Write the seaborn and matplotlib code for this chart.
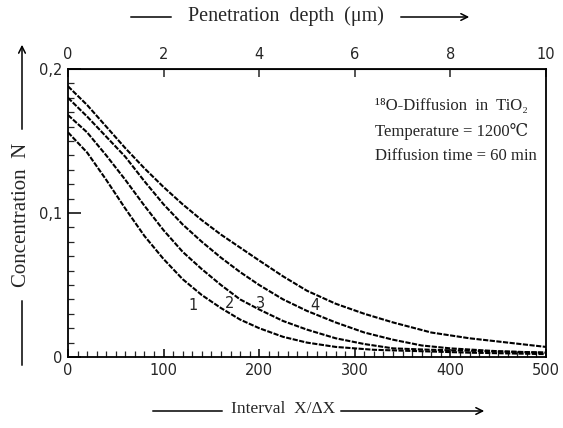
import numpy as np
import pandas as pd
import seaborn as sns
import matplotlib.pyplot as plt
from matplotlib.ticker import MultipleLocator, FuncFormatter

# profiles (interval X/dX, concentration N)
x1 = [0, 20, 40, 60, 80, 100, 120, 140, 160, 180, 200, 225, 250, 280, 320, 370, 420, 500]
n1 = [0.156, 0.142, 0.123, 0.103, 0.084, 0.068, 0.054, 0.043, 0.034, 0.026, 0.020, 0.014, 0.010, 0.007, 0.005, 0.004, 0.003, 0.002]
x2 = [0, 20, 40, 60, 80, 100, 120, 140, 160, 180, 200, 225, 250, 280, 310, 340, 380, 440, 500]
n2 = [0.168, 0.156, 0.140, 0.123, 0.105, 0.088, 0.073, 0.061, 0.050, 0.040, 0.033, 0.025, 0.019, 0.013, 0.009, 0.006, 0.005, 0.004, 0.003]
x3 = [0, 20, 40, 60, 80, 100, 120, 140, 160, 180, 200, 225, 250, 280, 310, 340, 370, 400, 450, 500]
n3 = [0.180, 0.167, 0.153, 0.139, 0.122, 0.106, 0.092, 0.080, 0.069, 0.059, 0.050, 0.040, 0.032, 0.024, 0.017, 0.012, 0.008, 0.006, 0.004, 0.003]
x4 = [0, 20, 40, 60, 80, 100, 120, 140, 160, 180, 200, 225, 250, 280, 310, 340, 380, 420, 460, 500]
n4 = [0.188, 0.175, 0.160, 0.145, 0.131, 0.118, 0.106, 0.095, 0.085, 0.076, 0.067, 0.056, 0.046, 0.037, 0.030, 0.024, 0.017, 0.013, 0.010, 0.007]

curve_names = ['1', '2', '3', '4']
label_pos = [(131, 0.036), (169, 0.037), (201, 0.037), (258, 0.036)]

depth_ticks = [0, 2, 4, 6, 8, 10]
info_lines = ['¹⁸O-Diffusion  in  TiO₂', 'Temperature = 1200℃', 'Diffusion time = 60 min']

W, H = 563, 428


def fp(x, y):
    # figure pixel -> figure fraction
    return (x / W, 1 - y / H)


def main():
    sns.set_style('ticks')
    plt.rcParams['font.family'] = ['Liberation Sans Narrow', 'DejaVu Sans']
    serif = ['Liberation Serif', 'DejaVu Serif']

    frames = []
    for name, xs, ns in zip(curve_names, [x1, x2, x3, x4], [n1, n2, n3, n4]):
        frames.append(pd.DataFrame({'interval': xs, 'N': ns, 'curve': name}))
    df = pd.concat(frames, ignore_index=True)

    fig = plt.figure(figsize=(W / 100, H / 100), dpi=100)
    ax = fig.add_axes([68 / W, 1 - 357 / H, (546 - 68) / W, (357 - 69) / H])

    sns.lineplot(data=df, x='interval', y='N', hue='curve',
                 palette=['black'] * 4, legend=False, ax=ax,
                 linewidth=1.5, linestyle=(0, (2.5, 0.7)))

    ax.set_xlim(0, 500)
    ax.set_ylim(0, 0.2)
    for s in ax.spines.values():
        s.set_visible(True)
        s.set_linewidth(1.3)
        s.set_color('black')

    ax.xaxis.set_major_locator(MultipleLocator(100))
    ax.xaxis.set_minor_locator(MultipleLocator(10))
    ax.yaxis.set_major_locator(MultipleLocator(0.1))
    ax.yaxis.set_minor_locator(MultipleLocator(0.01))
    ax.yaxis.set_major_formatter(FuncFormatter(
        lambda v, p: '0' if abs(v) < 1e-9 else f'{v:.1f}'.replace('.', ',')))
    ax.tick_params(axis='both', which='major', direction='in', labelsize=10.5,
                   width=1.1, color='black', pad=4)
    ax.tick_params(axis='y', which='major', length=9)
    ax.tick_params(axis='x', which='major', length=6)
    ax.tick_params(axis='both', which='minor', direction='in', length=4, width=0.9)
    ax.set_xlabel('')
    ax.set_ylabel('')

    top = ax.secondary_xaxis('top', functions=(lambda v: v / 50, lambda d: d * 50))
    top.set_xticks(depth_ticks)
    top.set_xticklabels([str(t) for t in depth_ticks])
    top.tick_params(direction='in', length=6, width=1.1, labelsize=10.5, pad=5)

    for name, (lx, ly) in zip(curve_names, label_pos):
        ax.text(lx, ly, name, fontsize=10.5, ha='center', va='center')

    for i, line in enumerate(info_lines):
        ax.text(321, 0.174 - i * 0.0172, line, family=serif, fontsize=12,
                ha='left', va='center')

    # axis titles with their drawn arrows
    arrow = dict(arrowstyle='->', color='black', lw=1.1, mutation_scale=12)
    plain = dict(arrowstyle='-', color='black', lw=1.1)
    fig.text(*fp(286, 16), 'Penetration  depth  (μm)', family=serif, fontsize=14.5,
             ha='center', va='center')
    ax.annotate('', xy=fp(174, 17), xytext=fp(128, 17), xycoords='figure fraction',
                textcoords='figure fraction', arrowprops=plain)
    ax.annotate('', xy=fp(472, 17), xytext=fp(398, 17), xycoords='figure fraction',
                textcoords='figure fraction', arrowprops=arrow)

    fig.text(*fp(283, 409), 'Interval  X/ΔX', family=serif, fontsize=12.5,
             ha='center', va='center')
    ax.annotate('', xy=fp(225, 411), xytext=fp(150, 411), xycoords='figure fraction',
                textcoords='figure fraction', arrowprops=plain)
    ax.annotate('', xy=fp(487, 411), xytext=fp(338, 411), xycoords='figure fraction',
                textcoords='figure fraction', arrowprops=arrow)

    fig.text(*fp(22, 215), 'Concentration  N', family=serif, fontsize=15,
             ha='center', va='center', rotation=90)
    ax.annotate('', xy=fp(22, 368), xytext=fp(22, 298), xycoords='figure fraction',
                textcoords='figure fraction', arrowprops=plain)
    ax.annotate('', xy=fp(22, 42), xytext=fp(22, 132), xycoords='figure fraction',
                textcoords='figure fraction', arrowprops=arrow)

    fig.savefig('out.png', dpi=100, facecolor='white')


if __name__ == '__main__':
    main()
